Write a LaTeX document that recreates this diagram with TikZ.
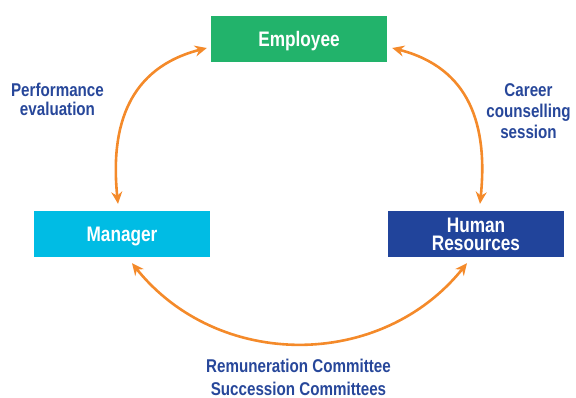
\documentclass[tikz,border=0pt]{standalone}
\usepackage{fontspec}
\setmainfont{Liberation Sans}[FakeStretch=0.82]
\usetikzlibrary{arrows.meta,calc}
\definecolor{empg}{HTML}{22B36B}
\definecolor{mgrc}{HTML}{00BCE4}
\definecolor{hrb}{HTML}{21449B}
\definecolor{orng}{HTML}{F48A2A}
\definecolor{lblue}{HTML}{27479A}
\begin{document}
\begin{tikzpicture}[x=1pt,y=-1pt,
  box/.style={minimum width=176pt, minimum height=46pt, inner sep=0pt, text=white,
    text height=15pt, text depth=0pt,
    font=\bfseries\fontsize{21}{18}\selectfont, align=center},
  lbl/.style={text=lblue, inner sep=0pt, align=center},
  link/.style={draw=orng, line width=2.6pt, {Stealth[length=12pt,width=11pt,inset=4pt]}-{Stealth[length=12pt,width=11pt,inset=4pt]}}]
\useasboundingbox (0,0) rectangle (576,398);
\node[box, fill=empg] (emp) at (299,39.5) {Employee};
\node[box, fill=mgrc] (mgr) at (122,234) {Manager};
\node[box, fill=hrb, text height=33pt] (hr) at (476,234) {Human\\Resources};
\node[lbl, font=\bfseries\fontsize{18.5}{19}\selectfont] (perf) at (57.5,99) {Performance\\evaluation};
\node[lbl, font=\bfseries\fontsize{18.5}{21}\selectfont] (career) at (528.5,111.5) {Career\\counselling\\session};
\node[lbl, font=\bfseries\fontsize{18.5}{23}\selectfont] (comm) at (298.5,377.5) {Remuneration Committee\\Succession Committees};
\coordinate (a1) at ($(emp.west)+(-4,8.5)$);
\coordinate (a2) at ($(mgr.north)+(-4,-7)$);
\coordinate (b1) at ($(emp.east)+(5,8.5)$);
\coordinate (b2) at ($(hr.north)+(4,-7)$);
\coordinate (c1) at ($(mgr.south)+(10,6)$);
\coordinate (c2) at ($(hr.south)+(-9,6)$);
\draw[link] (a1) .. controls +(-78,20) and +(-8,-78) .. (a2);
\draw[link] (b1) .. controls +(78,20) and +(8,-78) .. (b2);
\draw[link] (c1) .. controls +(86,107) and +(-86,107) .. (c2);
\end{tikzpicture}
\end{document}
